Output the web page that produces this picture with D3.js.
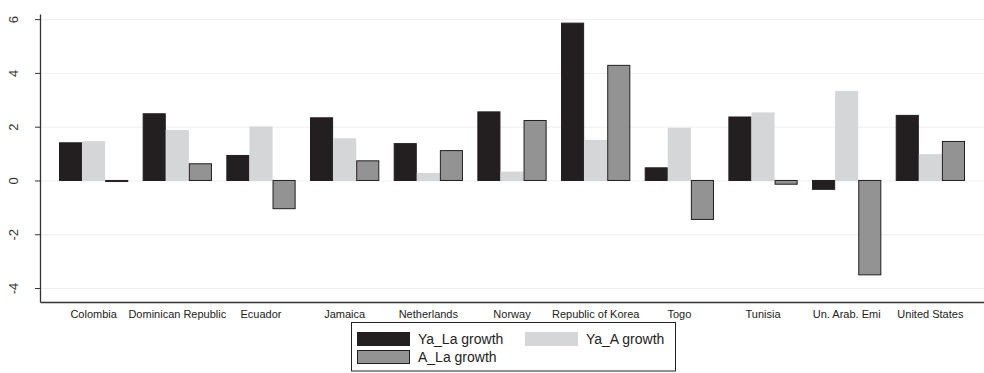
<!DOCTYPE html>
<html>
<head>
<meta charset="utf-8">
<script src="https://cdn.jsdelivr.net/npm/d3@7"></script>
<style>
  html, body { margin: 0; padding: 0; background: #ffffff; }
  svg { display: block; font-family: "Liberation Sans", Arial, Helvetica, sans-serif; }
</style>
</head>
<body>
<svg id="chart" width="984" height="373"></svg>
<script>
// Countries along the x axis
const countries = ["Colombia", "Dominican Republic", "Ecuador", "Jamaica", "Netherlands",
  "Norway", "Republic of Korea", "Togo", "Tunisia", "Un. Arab. Emi", "United States"];

// Growth rates per country
const yaLaGrowth = [1.40, 2.48, 0.93, 2.33, 1.37, 2.55, 5.85, 0.47, 2.36, -0.33, 2.42];
const yaAGrowth  = [1.44, 1.86, 1.99, 1.55, 0.26, 0.31, 1.49, 1.94, 2.51, 3.31, 0.96];
const aLaGrowth  = [-0.04, 0.62, -1.05, 0.73, 1.11, 2.23, 4.28, -1.45, -0.14, -3.51, 1.45];

const seriesNames = ["Ya_La growth", "Ya_A growth", "A_La growth"];
const yTicks = [-4, -2, 0, 2, 4, 6];

const series = [
  { name: seriesNames[0], values: yaLaGrowth, fill: "#231f20", stroke: "#231f20" },
  { name: seriesNames[1], values: yaAGrowth,  fill: "#d5d6d7", stroke: "#d5d6d7" },
  { name: seriesNames[2], values: aLaGrowth,  fill: "#939393", stroke: "#231f20" }
];

const svg = d3.select("#chart");
const plot = { left: 40, right: 984, top: 14, bottom: 302 };

const x = d3.scaleBand()
  .domain(countries)
  .range([plot.left, plot.right])
  .paddingInner(0.172)
  .paddingOuter(0.227);

const xSub = d3.scaleBand()
  .domain(seriesNames)
  .range([0, x.bandwidth()]);

const y = d3.scaleLinear()
  .domain([-4.52, 6.19])
  .range([plot.bottom, plot.top]);

// Horizontal grid lines
svg.append("g")
  .selectAll("line")
  .data(yTicks)
  .join("line")
  .attr("x1", plot.left)
  .attr("x2", plot.right)
  .attr("y1", d => y(d) + 0.5)
  .attr("y2", d => y(d) + 0.5)
  .attr("stroke", "#efefef")
  .attr("stroke-width", 1);

// Bars
const groups = svg.append("g")
  .selectAll("g")
  .data(countries)
  .join("g")
  .attr("transform", d => `translate(${x(d)},0)`);

groups.selectAll("rect")
  .data((c, i) => series.map(s => ({ s, v: s.values[i] })))
  .join("rect")
  .attr("x", d => xSub(d.s.name) + 0.5)
  .attr("width", xSub.bandwidth() - 1)
  .attr("y", d => y(Math.max(0, d.v)))
  .attr("height", d => Math.max(1, Math.abs(y(d.v) - y(0))))
  .attr("fill", d => d.s.fill)
  .attr("stroke", d => d.s.stroke)
  .attr("stroke-width", 1);

// Y axis
const yAxis = svg.append("g")
  .attr("transform", `translate(${plot.left},0)`)
  .call(d3.axisLeft(y).tickValues(yTicks).tickSize(5).tickSizeOuter(0).tickFormat(d => String(d)));
yAxis.select(".domain").attr("stroke", "#333").attr("stroke-width", 1.3);
yAxis.selectAll(".tick line").attr("stroke", "#333");
yAxis.selectAll(".tick text")
  .attr("font-size", 13)
  .attr("fill", "#333")
  .attr("text-anchor", "middle")
  .attr("x", null)
  .attr("dy", null)
  .attr("transform", "translate(-27,0) rotate(-90)")
  .attr("dominant-baseline", "central");

// X axis line and country labels
const xAxis = svg.append("g")
  .attr("transform", `translate(0,${plot.bottom})`)
  .call(d3.axisBottom(x).tickSize(0).tickSizeOuter(0).tickPadding(8));
xAxis.select(".domain").attr("stroke", "#333").attr("stroke-width", 1.3);
xAxis.selectAll(".tick text")
  .attr("font-size", 11)
  .attr("fill", "#222");

// Legend
const legend = svg.append("g");
legend.append("rect")
  .attr("x", 351.5).attr("y", 322.5)
  .attr("width", 324).attr("height", 48.5)
  .attr("fill", "#fff").attr("stroke", "#222").attr("stroke-width", 1);

const legendItems = [
  { s: series[0], lx: 357, ly: 332 },
  { s: series[1], lx: 525, ly: 332 },
  { s: series[2], lx: 357, ly: 350 }
];
legendItems.forEach(it => {
  legend.append("rect")
    .attr("x", it.lx + 0.5).attr("y", it.ly + 0.5)
    .attr("width", 52).attr("height", 13)
    .attr("fill", it.s.fill)
    .attr("stroke", it.s.stroke);
  legend.append("text")
    .attr("x", it.lx + 61)
    .attr("y", it.ly + 7)
    .attr("dominant-baseline", "central")
    .attr("font-size", 14)
    .attr("fill", "#222")
    .text(it.s.name);
});
</script>
</body>
</html>
